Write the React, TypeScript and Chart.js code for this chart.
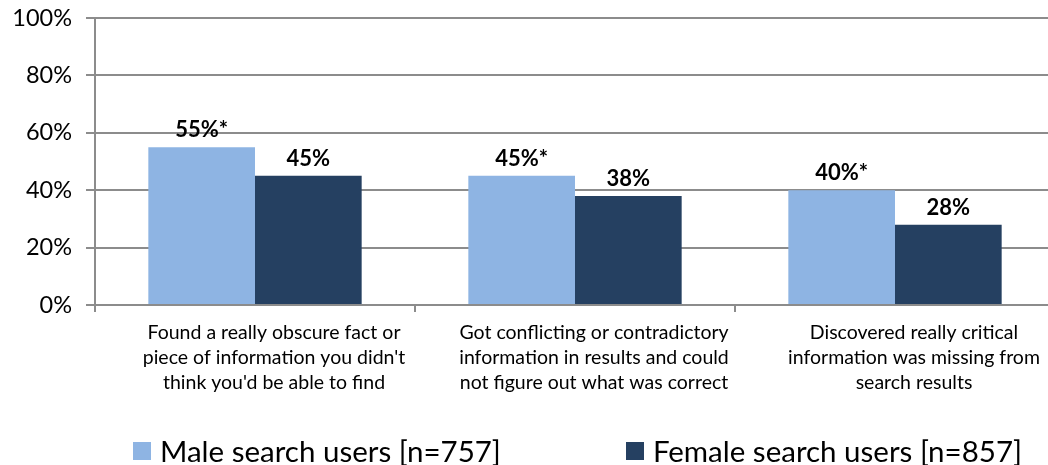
import React, { useEffect, useRef } from "react";
import { Chart, registerables } from "chart.js";

Chart.register(...registerables);

const categories: string[][] = [
  ["Found a really obscure fact or", "piece of information you didn't", "think you'd be able to find"],
  ["Got conflicting or contradictory", "information in results and could", "not figure out what was correct"],
  ["Discovered really critical", "information was missing from", "search results"],
];
const maleValues = [55, 45, 40];
const femaleValues = [45, 38, 28];
const maleSignificant = [true, true, true];
const femaleSignificant = [false, false, false];
const seriesNames = ["Male search users [n=757]", "Female search users [n=857]"];
const seriesColors = ["#8EB4E3", "#254061"];
const yTickValues = [0, 20, 40, 60, 80, 100];

const FONT = "Lato, 'Open Sans', sans-serif";
const GRID = "#8c8c8c";

const valueLabels = {
  id: "valueLabels",
  afterDatasetsDraw(chart: any) {
    const ctx = chart.ctx;
    ctx.save();
    ctx.font = `bold 22px ${FONT}`;
    ctx.fillStyle = "#000";
    ctx.textAlign = "center";
    ctx.textBaseline = "alphabetic";
    chart.data.datasets.forEach((ds: any, di: number) => {
      const meta = chart.getDatasetMeta(di);
      const sig = di === 0 ? maleSignificant : femaleSignificant;
      meta.data.forEach((bar: any, i: number) => {
        const text = ds.data[i] + "%" + (sig[i] ? "*" : "");
        ctx.fillText(text, bar.x, bar.y - 10);
      });
    });
    ctx.restore();
  },
};

export default function App() {
  const ref = useRef<HTMLCanvasElement | null>(null);
  useEffect(() => {
    document.body.style.margin = "0";
    const chart = new Chart(ref.current as HTMLCanvasElement, {
      type: "bar",
      data: {
        labels: categories,
        datasets: [
          {
            label: seriesNames[0],
            data: maleValues,
            backgroundColor: seriesColors[0],
            categoryPercentage: 2 / 3,
            barPercentage: 1,
          },
          {
            label: seriesNames[1],
            data: femaleValues,
            backgroundColor: seriesColors[1],
            categoryPercentage: 2 / 3,
            barPercentage: 1,
          },
        ],
      },
      options: {
        responsive: false,
        animation: false,
        layout: { padding: { top: 18, right: 5, left: 0, bottom: 0 } },
        plugins: { legend: { display: false }, tooltip: { enabled: false } },
        scales: {
          x: {
            offset: true,
            grid: {
              offset: true,
              drawOnChartArea: false,
              drawTicks: true,
              tickLength: 7,
              color: GRID,
              lineWidth: 2,
            },
            border: { color: GRID, width: 2 },
            ticks: {
              color: "#000",
              font: { family: FONT, size: 19.5, lineHeight: "25px" },
              padding: 8,
              labelOffset: 19,
              maxRotation: 0,
              autoSkip: false,
            },
            afterFit: (s: any) => {
              s.height = 160;
              s.paddingLeft = 0;
              s.paddingRight = 0;
            },
          },
          y: {
            min: 0,
            max: 100,
            afterBuildTicks: (s: any) => {
              s.ticks = yTickValues.map((v) => ({ value: v }));
            },
            grid: { color: GRID, lineWidth: 2, tickLength: 9 },
            border: { color: GRID, width: 2 },
            ticks: {
              color: "#000",
              font: { family: FONT, size: 23.5 },
              padding: 14,
              callback: (v: any) => v + "%",
            },
            afterFit: (s: any) => {
              s.width = 95;
              s.paddingTop = 0;
              s.paddingBottom = 0;
            },
          },
        },
      },
      plugins: [valueLabels],
    });
    return () => chart.destroy();
  }, []);

  return (
    <div style={{ position: "relative", width: 1048, height: 465, overflow: "hidden", background: "#fff" }}>
      <canvas ref={ref} width={1060} height={465} style={{ display: "block" }} />
      <div
        style={{
          position: "absolute",
          top: 433,
          left: 133,
          display: "flex",
          alignItems: "center",
          fontFamily: FONT,
          fontSize: 29.5,
          lineHeight: "36px",
          color: "#000",
          whiteSpace: "nowrap",
        }}
      >
        {seriesNames.map((name, i) => (
          <div key={name} style={{ display: "flex", alignItems: "center", marginRight: i === 0 ? 125 : 0 }}>
            <span style={{ display: "inline-block", width: 18, height: 18, background: seriesColors[i], marginRight: 9 }} />
            <span>{name}</span>
          </div>
        ))}
      </div>
    </div>
  );
}
